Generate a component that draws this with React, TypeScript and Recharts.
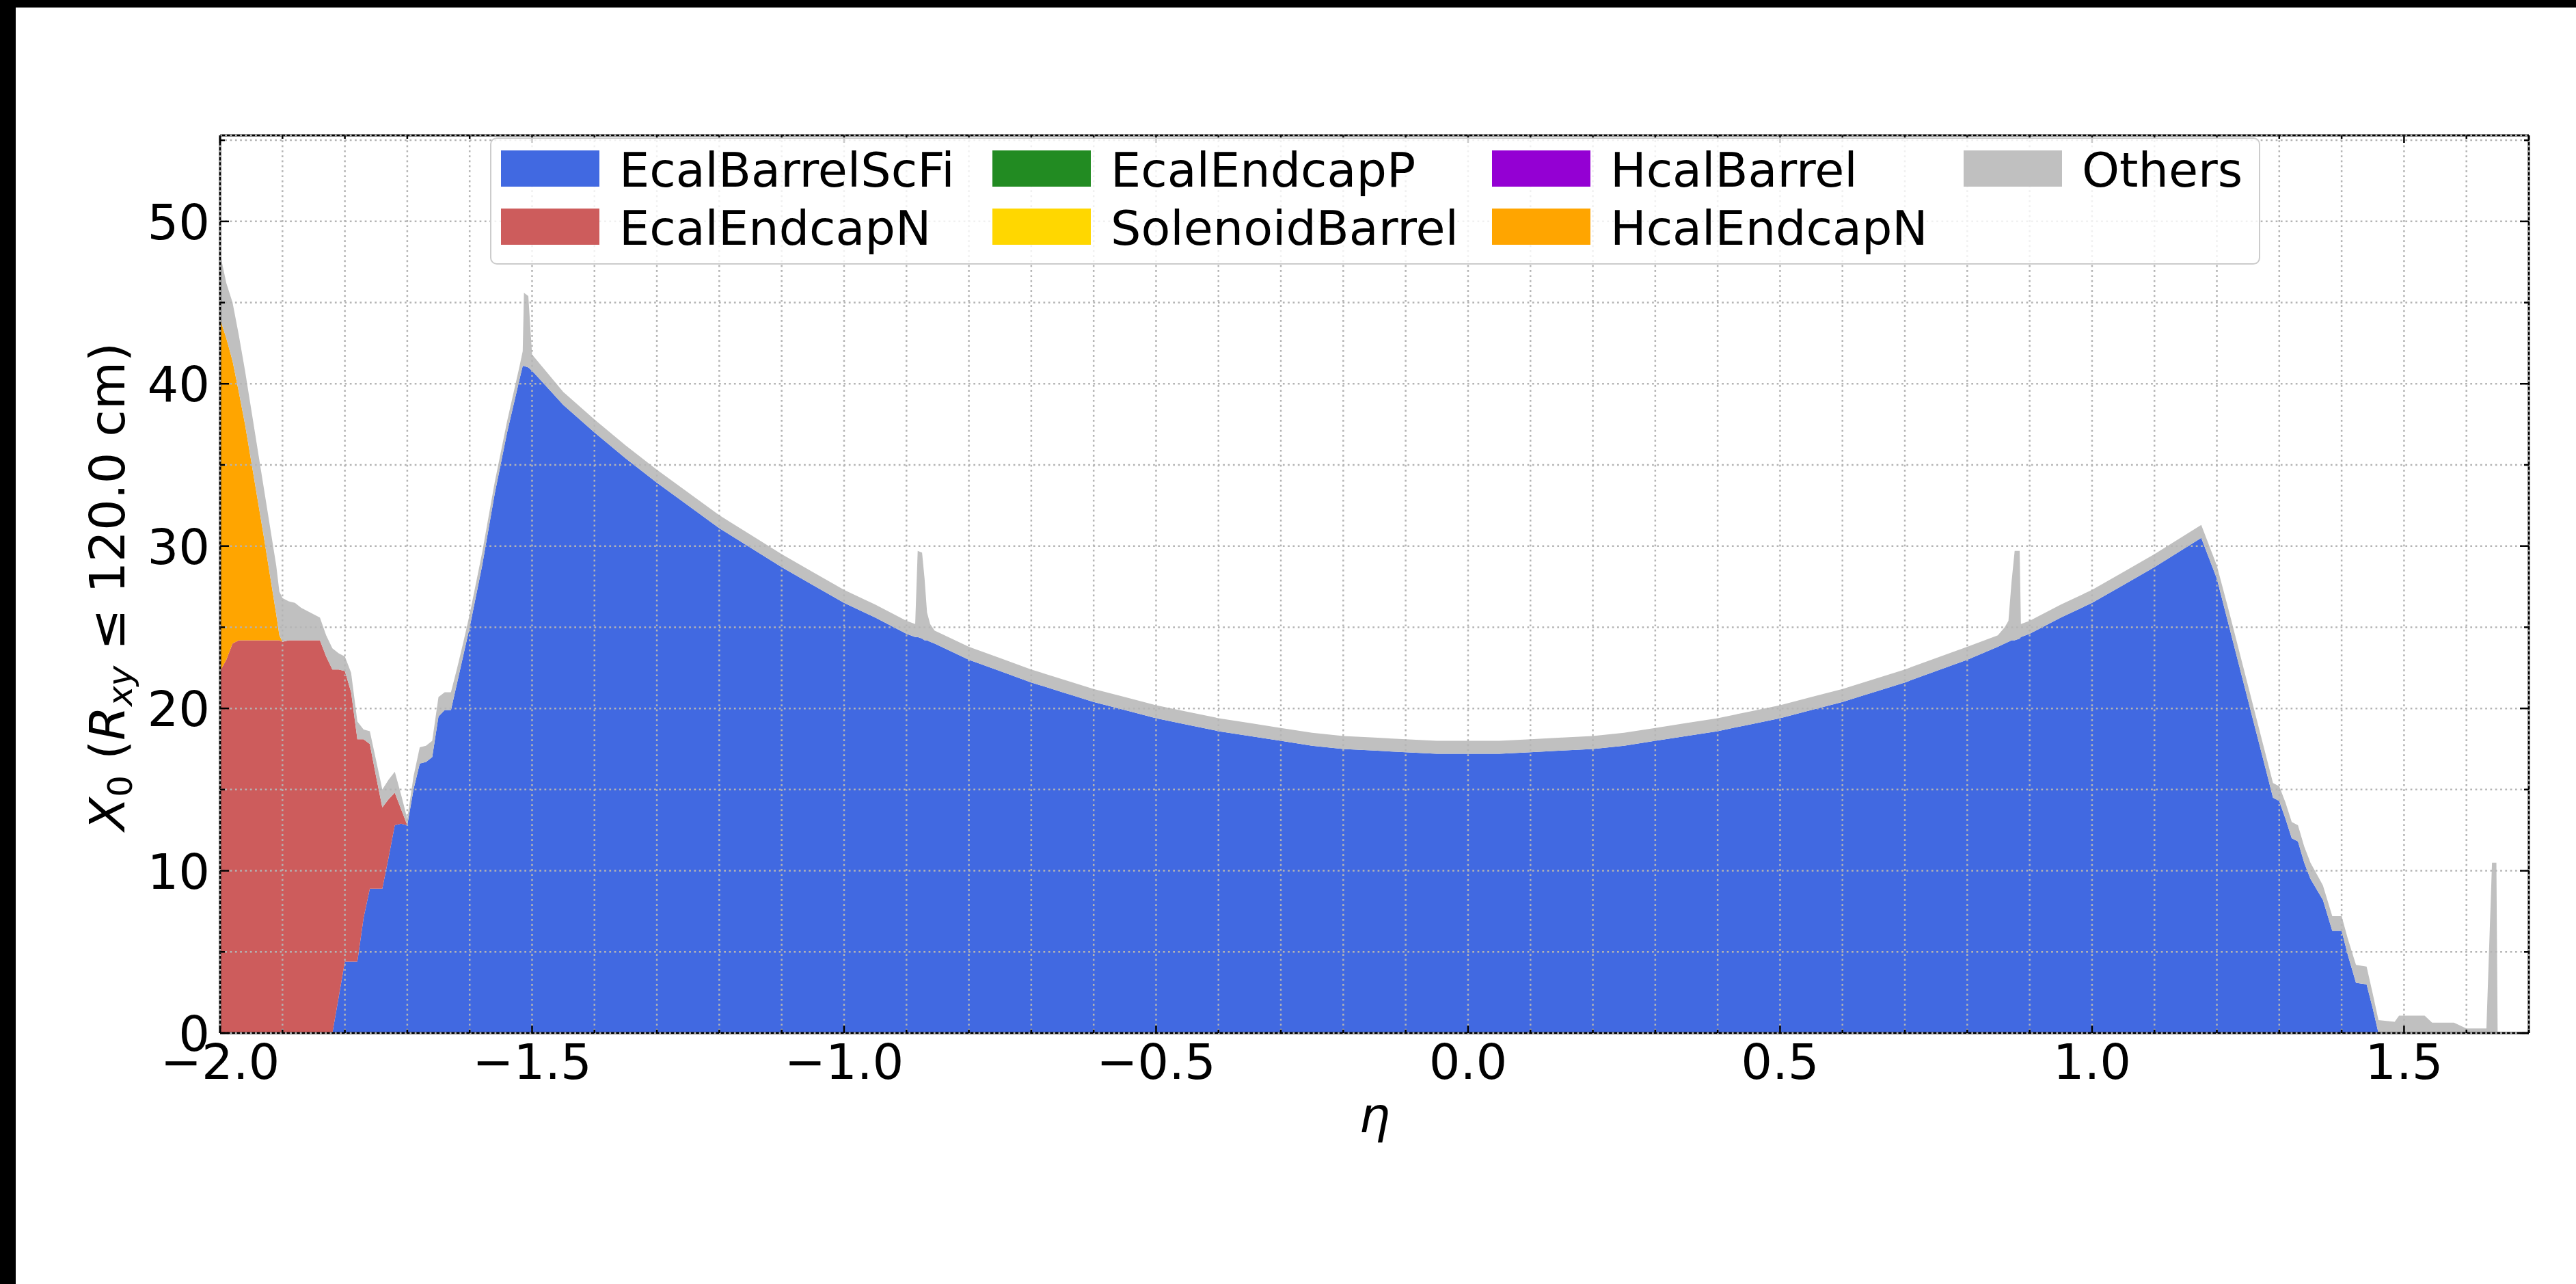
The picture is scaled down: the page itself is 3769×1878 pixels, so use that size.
import React from 'react';
import { AreaChart, Area, XAxis, YAxis, CartesianGrid } from 'recharts';

// eta bin positions (non-uniform: dense where the profile has steps or spikes)
const eta = [
  -2.0, -1.99, -1.98, -1.97, -1.96, -1.95, -1.94, -1.93, -1.92, -1.91,
  -1.905, -1.9, -1.89, -1.88, -1.87, -1.86, -1.85, -1.84, -1.83, -1.82,
  -1.81, -1.8, -1.79, -1.78, -1.77, -1.76, -1.75, -1.74, -1.73, -1.72,
  -1.71, -1.7, -1.69, -1.68, -1.67, -1.66, -1.65, -1.64, -1.63, -1.62,
  -1.61, -1.6, -1.58, -1.56, -1.54, -1.52, -1.515, -1.513, -1.506, -1.5,
  -1.45, -1.4, -1.35, -1.3, -1.25, -1.2, -1.15, -1.1, -1.05, -1.0,
  -0.95, -0.9, -0.886, -0.882, -0.875, -0.871, -0.867, -0.862, -0.855, -0.8,
  -0.75, -0.7, -0.65, -0.6, -0.55, -0.5, -0.45, -0.4, -0.35, -0.3,
  -0.25, -0.2, -0.15, -0.1, -0.05, 0.0, 0.05, 0.1, 0.15, 0.2,
  0.25, 0.3, 0.35, 0.4, 0.45, 0.5, 0.55, 0.6, 0.65, 0.7,
  0.75, 0.8, 0.849, 0.86, 0.866, 0.871, 0.876, 0.884, 0.886, 0.9,
  0.95, 1.0, 1.05, 1.1, 1.15, 1.175, 1.2, 1.22, 1.24, 1.26,
  1.28, 1.29, 1.3, 1.31, 1.32, 1.33, 1.34, 1.35, 1.37, 1.385,
  1.4, 1.41, 1.423, 1.44, 1.45, 1.459, 1.485, 1.492, 1.533, 1.545,
  1.58, 1.6, 1.632, 1.641, 1.648, 1.65, 1.7,
];

const ecalBarrelScFi = [
  0, 0, 0, 0, 0, 0, 0, 0, 0, 0,
  0, 0, 0, 0, 0, 0, 0, 0, 0, 0,
  2.2, 4.4, 4.4, 4.4, 7.1, 8.9, 8.9, 8.9, 10.8, 12.8,
  12.9, 12.8, 15.0, 16.6, 16.7, 17.0, 19.5, 19.9, 19.9, 21.6,
  23.3, 25.0, 28.8, 33.2, 37.0, 40.3, 41.1, 41.1, 41.0, 40.8,
  38.7, 37.0, 35.4, 33.9, 32.5, 31.1, 29.9, 28.7, 27.6, 26.5,
  25.6, 24.6, 24.4, 24.4, 24.3, 24.2, 24.2, 24.1, 24.0, 23.0,
  22.3, 21.6, 21.0, 20.4, 19.9, 19.4, 19.0, 18.6, 18.3, 18.0,
  17.7, 17.5, 17.4, 17.3, 17.2, 17.2, 17.2, 17.3, 17.4, 17.5,
  17.7, 18.0, 18.3, 18.6, 19.0, 19.4, 19.9, 20.4, 21.0, 21.6,
  22.3, 23.0, 23.8, 24.0, 24.1, 24.2, 24.2, 24.3, 24.4, 24.6,
  25.6, 26.5, 27.6, 28.7, 29.9, 30.5, 28.0, 25.0, 22.0, 19.0,
  16.0, 14.5, 14.3, 13.2, 12.0, 11.8, 10.5, 9.5, 8.2, 6.3,
  6.3, 4.8, 3.1, 3.0, 1.5, 0, 0, 0, 0, 0,
  0, 0, 0, 0, 0, 0, 0,
];

// only non-zero at the negative endcap; missing entries are zero
const ecalEndcapN = [
  22.3, 23.0, 24.0, 24.2, 24.2, 24.2, 24.2, 24.2, 24.2, 24.2,
  24.2, 24.1, 24.2, 24.2, 24.2, 24.2, 24.2, 24.2, 23.2, 22.4,
  20.2, 17.9, 16.6, 13.7, 11.0, 8.9, 6.9, 5.0, 3.6, 2.0,
  0.9,
];

const hcalEndcapN = [
  21.7, 19.8, 17.4, 15.3, 13.3, 11.0, 8.7, 6.4, 4.0, 1.6,
  0.3,
];

const others = [
  4.0, 3.4, 3.6, 3.5, 3.3, 3.2, 3.1, 3.0, 3.0, 3.0,
  2.7, 2.7, 2.4, 2.3, 2.0, 1.8, 1.6, 1.4, 1.3, 1.3,
  1.0, 0.9, 1.2, 1.1, 0.6, 0.8, 1.0, 1.1, 1.2, 1.3,
  0.9, 0.4, 0.8, 1.0, 1.0, 1.0, 1.2, 1.1, 1.1, 0.9,
  0.8, 0.8, 0.8, 0.7, 0.7, 0.8, 0.9, 4.5, 4.4, 1.0,
  0.8, 0.8, 0.8, 0.8, 0.8, 0.8, 0.8, 0.8, 0.8, 0.8,
  0.8, 0.8, 0.8, 5.3, 5.3, 3.8, 1.7, 1.1, 0.8, 0.8,
  0.8, 0.8, 0.8, 0.8, 0.8, 0.8, 0.8, 0.8, 0.8, 0.8,
  0.8, 0.8, 0.8, 0.8, 0.8, 0.8, 0.8, 0.8, 0.8, 0.8,
  0.8, 0.8, 0.8, 0.8, 0.8, 0.8, 0.8, 0.8, 0.8, 0.8,
  0.8, 0.8, 0.7, 1.0, 1.3, 3.6, 5.5, 5.4, 0.8, 0.8,
  0.8, 0.8, 0.8, 0.8, 0.8, 0.8, 0.8, 0.9, 0.9, 0.9,
  0.9, 0.9, 0.9, 1.0, 1.0, 1.0, 1.0, 1.0, 0.9, 0.9,
  0.9, 1.0, 1.1, 1.1, 0.9, 0.8, 0.7, 1.07, 1.07, 0.64,
  0.64, 0.28, 0.28, 10.5, 10.5, 0.08, 0.08,
];

const xTicks = [
  -2.0, -1.9, -1.8, -1.7, -1.6, -1.5, -1.4, -1.3, -1.2, -1.1,
  -1.0, -0.9, -0.8, -0.7, -0.6, -0.5, -0.4, -0.3, -0.2, -0.1,
  0.0, 0.1, 0.2, 0.3, 0.4, 0.5, 0.6, 0.7, 0.8, 0.9,
  1.0, 1.1, 1.2, 1.3, 1.4, 1.5, 1.6, 1.7,
];
const yTicks = [0, 5, 10, 15, 20, 25, 30, 35, 40, 45, 50, 55];

const legendItems = [
  { name: 'EcalBarrelScFi', color: '#4169e1' },
  { name: 'EcalEndcapN', color: '#cd5c5c' },
  { name: 'EcalEndcapP', color: '#228b22' },
  { name: 'SolenoidBarrel', color: '#ffd700' },
  { name: 'HcalBarrel', color: '#9400d3' },
  { name: 'HcalEndcapN', color: '#ffa500' },
  { name: 'Others', color: '#c0c0c0' },
];

const data = eta.map((e, i) => ({
  eta: e,
  barrel: ecalBarrelScFi[i],
  endcapN: ecalEndcapN[i] ?? 0,
  hcalN: hcalEndcapN[i] ?? 0,
  others: others[i],
}));

const W = 3769;
const H = 1878;
const PLOT = { left: 322, right: 3700, top: 198, bottom: 1511 };
const FONT = "'DejaVu Sans', sans-serif";
const FS = 72;

const isMajorX = (v: number) => Math.abs(v * 2 - Math.round(v * 2)) < 1e-6;
const isMajorY = (v: number) => Math.round(v) % 10 === 0;
const fmtX = (v: number) => (v < -1e-9 ? '\u2212' : '') + Math.abs(v).toFixed(1);

function BottomTick(props: any) {
  const { x, payload } = props;
  const major = isMajorX(payload.value);
  return (
    <g>
      <line x1={x} x2={x} y1={PLOT.bottom} y2={PLOT.bottom - (major ? 11 : 5)} stroke="#000" strokeWidth={2.5} />
      {major && (
        <text x={x} y={1578} textAnchor="middle" fontFamily={FONT} fontSize={FS} fill="#000">
          {fmtX(payload.value)}
        </text>
      )}
    </g>
  );
}

function TopTick(props: any) {
  const { x, payload } = props;
  const major = isMajorX(payload.value);
  return <line x1={x} x2={x} y1={PLOT.top} y2={PLOT.top + (major ? 11 : 5)} stroke="#000" strokeWidth={2.5} />;
}

function LeftTick(props: any) {
  const { y, payload } = props;
  const major = isMajorY(payload.value);
  return (
    <g>
      <line x1={PLOT.left} x2={PLOT.left + (major ? 13 : 7)} y1={y} y2={y} stroke="#000" strokeWidth={2.5} />
      {major && (
        <text x={307} y={y + 26} textAnchor="end" fontFamily={FONT} fontSize={FS} fill="#000">
          {payload.value}
        </text>
      )}
    </g>
  );
}

function RightTick(props: any) {
  const { y, payload } = props;
  const major = isMajorY(payload.value);
  return <line x1={PLOT.right} x2={PLOT.right - (major ? 13 : 7)} y1={y} y2={y} stroke="#000" strokeWidth={2.5} />;
}

function XLabel() {
  return (
    <text x={2011} y={1656} textAnchor="middle" fontFamily={FONT} fontSize={FS} fontStyle="italic" fill="#000">
      η
    </text>
  );
}

function YLabel() {
  const cx = 182;
  const cy = 858;
  return (
    <text
      x={cx}
      y={cy}
      transform={`rotate(-90, ${cx}, ${cy})`}
      textAnchor="middle"
      fontFamily={FONT}
      fontSize={FS}
      fill="#000"
    >
      <tspan fontStyle="italic">X</tspan>
      <tspan fontSize={50} dy={11}>0</tspan>
      <tspan dy={-11}> (</tspan>
      <tspan fontStyle="italic">R</tspan>
      <tspan fontSize={50} fontStyle="italic" dy={11}>xy</tspan>
      <tspan dy={-11}> ≤ 120.0 cm)</tspan>
    </text>
  );
}

function LegendBox() {
  const colX = [16, 735, 1466, 2156];
  const rowY = [19, 104];
  return (
    <div
      style={{
        position: 'absolute',
        left: 717,
        top: 201,
        width: 2590,
        height: 186,
        boxSizing: 'border-box',
        border: '2.5px solid #cccccc',
        borderRadius: 10,
        background: 'rgba(255,255,255,0.8)',
      }}
    >
      <svg width={2590} height={186} style={{ position: 'absolute', left: -2.5, top: -2.5 }}>
        {legendItems.map((item, i) => {
          const col = Math.floor(i / 2);
          const row = i % 2;
          const sx = colX[col];
          const sy = rowY[row];
          return (
            <g key={item.name}>
              <rect x={sx} y={sy} width={144} height={53} fill={item.color} />
              <text x={sx + 173} y={sy + 53} fontFamily={FONT} fontSize={70} fill="#000">
                {item.name}
              </text>
            </g>
          );
        })}
      </svg>
    </div>
  );
}

export default function App() {
  return (
    <div style={{ position: 'absolute', left: 0, top: 0, width: W, height: H, background: '#fff', overflow: 'hidden' }}>
      <AreaChart
        width={W}
        height={H}
        data={data}
        margin={{ top: PLOT.top - 1, right: W - PLOT.right - 1, bottom: H - PLOT.bottom - 1, left: PLOT.left - 1 }}
      >
        <CartesianGrid stroke="#b4b4b4" strokeWidth={2.5} strokeDasharray="2.7 4.6" zIndex={600} />
        <Area type="linear" dataKey="barrel" stackId="s" stroke="none" fill="#4169e1" fillOpacity={1} isAnimationActive={false} />
        <Area type="linear" dataKey="endcapN" stackId="s" stroke="none" fill="#cd5c5c" fillOpacity={1} isAnimationActive={false} />
        <Area type="linear" dataKey="hcalN" stackId="s" stroke="none" fill="#ffa500" fillOpacity={1} isAnimationActive={false} />
        <Area type="linear" dataKey="others" stackId="s" stroke="none" fill="#c0c0c0" fillOpacity={1} isAnimationActive={false} />
        <XAxis
          dataKey="eta"
          type="number"
          domain={[-2.0, 1.7]}
          ticks={xTicks}
          interval={0}
          allowDataOverflow
          height={1}
          tickSize={0}
          tickLine={false}
          tick={<BottomTick />}
          axisLine={{ stroke: '#000', strokeWidth: 3 }}
          label={<XLabel />}
        />
        <XAxis
          xAxisId="top"
          orientation="top"
          dataKey="eta"
          type="number"
          domain={[-2.0, 1.7]}
          ticks={xTicks}
          interval={0}
          allowDataOverflow
          height={1}
          tickSize={0}
          tickLine={false}
          tick={<TopTick />}
          axisLine={{ stroke: '#000', strokeWidth: 3 }}
        />
        <YAxis
          type="number"
          domain={[0, 55.3]}
          ticks={yTicks}
          interval={0}
          allowDataOverflow
          width={1}
          tickSize={0}
          tickLine={false}
          tick={<LeftTick />}
          axisLine={{ stroke: '#000', strokeWidth: 3 }}
          label={<YLabel />}
        />
        <YAxis
          yAxisId="right"
          orientation="right"
          type="number"
          domain={[0, 55.3]}
          ticks={yTicks}
          interval={0}
          allowDataOverflow
          width={1}
          tickSize={0}
          tickLine={false}
          tick={<RightTick />}
          axisLine={{ stroke: '#000', strokeWidth: 3 }}
        />
      </AreaChart>
      <LegendBox />
      <div style={{ position: 'absolute', left: 0, top: 0, width: 23, height: H, background: '#000' }} />
      <div style={{ position: 'absolute', left: 0, top: 0, width: W, height: 11, background: '#000' }} />
    </div>
  );
}
